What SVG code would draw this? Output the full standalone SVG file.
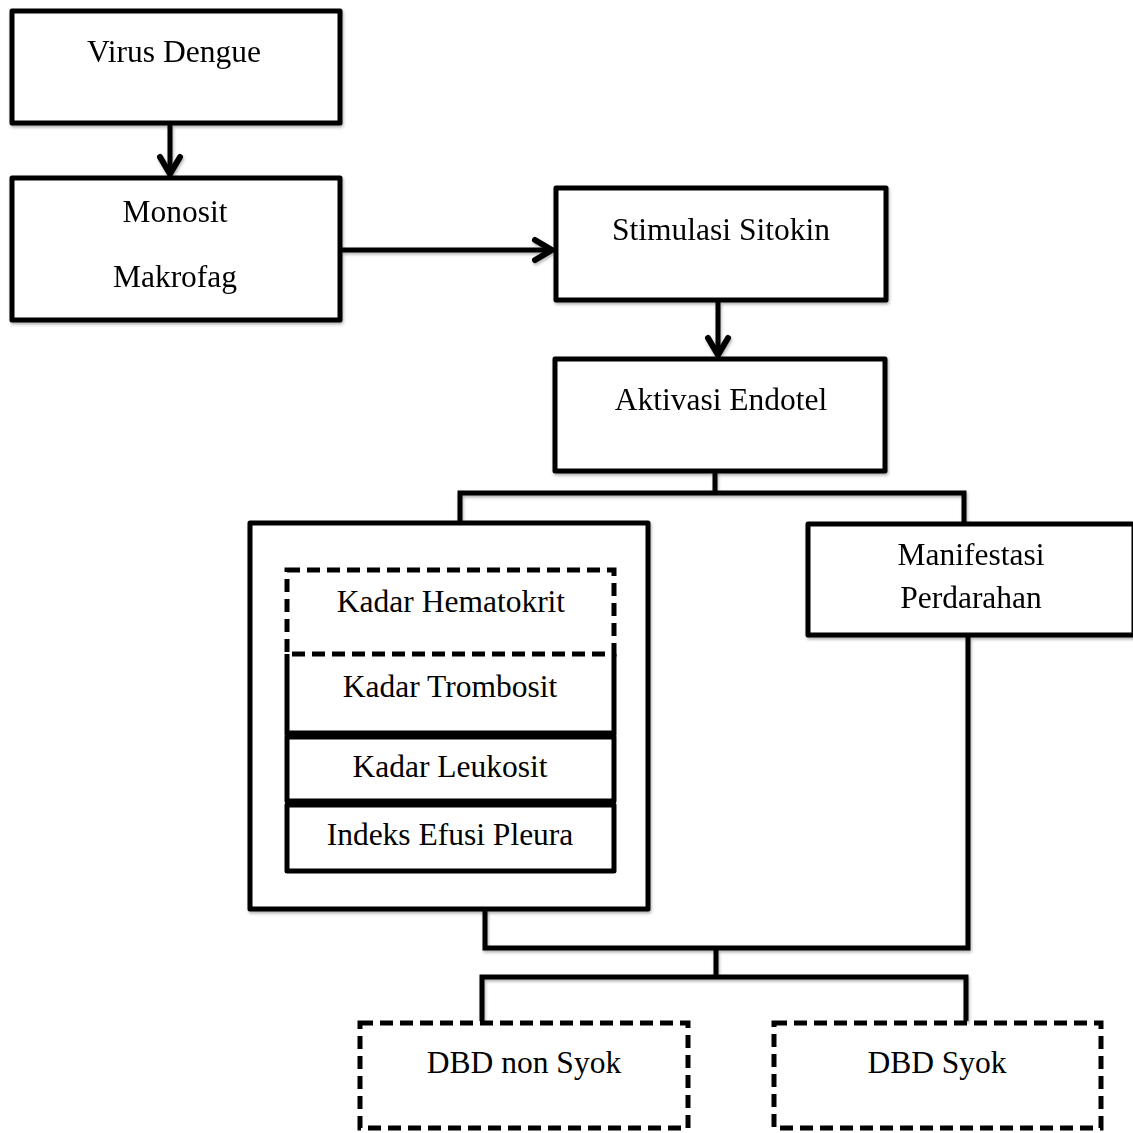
<svg xmlns="http://www.w3.org/2000/svg" width="1133" height="1133" viewBox="0 0 1133 1133">
<defs>
<style>
.box{fill:#fff;stroke:#000;stroke-width:5;stroke-linejoin:round}
.dash{fill:none;stroke:#000;stroke-width:5;stroke-dasharray:13 7}
.ln{fill:none;stroke:#000;stroke-width:5;stroke-linejoin:miter}
.t{font-family:"Liberation Serif","Times New Roman",serif;font-size:31.5px;fill:#000;text-anchor:middle}
</style>
<filter id="sh" x="-5%" y="-5%" width="110%" height="120%">
<feDropShadow dx="1" dy="2" stdDeviation="1.5" flood-color="#000" flood-opacity="0.3"/>
</filter>
<marker id="arr" markerUnits="userSpaceOnUse" viewBox="-22 -14 26 28" refX="0" refY="0" markerWidth="26" markerHeight="28" orient="auto">
<path d="M-17,-10 L0,0 L-17,10" fill="none" stroke="#000" stroke-width="6" stroke-linecap="round" stroke-linejoin="round"/>
</marker>
</defs>
<rect width="1133" height="1133" fill="#fff"/>
<g id="connectors" filter="url(#sh)">
<line class="ln" x1="170" y1="125" x2="170" y2="174" marker-end="url(#arr)"/>
<line class="ln" x1="342" y1="250" x2="552" y2="250" marker-end="url(#arr)"/>
<line class="ln" x1="718" y1="302" x2="718" y2="355" marker-end="url(#arr)"/>
<path class="ln" d="M715,472 V493 M460,521 V493 H964 V522"/>
<path class="ln" d="M485,910 V948 H968 V637 M716,948 V975 M482,1021 V977 H966 V1021"/>
</g>
<g id="virus-dengue" filter="url(#sh)">
<rect class="box" x="12" y="11" width="328" height="112"/>
<text class="t" x="174" y="62">Virus Dengue</text>
</g>
<g id="monosit-makrofag" filter="url(#sh)">
<rect class="box" x="12" y="178" width="328" height="142"/>
<text class="t" x="175" y="222">Monosit</text>
<text class="t" x="175" y="287">Makrofag</text>
</g>
<g id="stimulasi-sitokin" filter="url(#sh)">
<rect class="box" x="556" y="188" width="330" height="112"/>
<text class="t" x="721" y="240">Stimulasi Sitokin</text>
</g>
<g id="aktivasi-endotel" filter="url(#sh)">
<rect class="box" x="555" y="359" width="330" height="112"/>
<text class="t" x="721" y="410">Aktivasi Endotel</text>
</g>
<g id="parameter-group">
<rect class="box" x="250" y="523" width="398" height="386" filter="url(#sh)"/>
<g id="kadar-trombosit">
<path class="ln" d="M287,654 V733 H614 V654"/>
<text class="t" x="450" y="697">Kadar Trombosit</text>
</g>
<g id="kadar-leukosit">
<rect class="box" x="287" y="737" width="327" height="64"/>
<text class="t" x="450" y="777">Kadar Leukosit</text>
</g>
<g id="indeks-efusi-pleura">
<rect class="box" x="287" y="805" width="327" height="66"/>
<text class="t" x="450" y="845">Indeks Efusi Pleura</text>
</g>
<g id="kadar-hematokrit">
<rect class="dash" x="287" y="570" width="327" height="84"/>
<text class="t" x="451" y="612">Kadar Hematokrit</text>
</g>
</g>
<g id="manifestasi-perdarahan" filter="url(#sh)">
<rect class="box" x="808" y="524" width="326" height="111"/>
<text class="t" x="971" y="565">Manifestasi</text>
<text class="t" x="971" y="608">Perdarahan</text>
</g>
<g id="dbd-non-syok">
<rect class="dash" x="360" y="1023" width="328" height="105"/>
<text class="t" x="524" y="1073">DBD non Syok</text>
</g>
<g id="dbd-syok">
<rect class="dash" x="774" y="1023" width="327" height="105"/>
<text class="t" x="937" y="1073">DBD Syok</text>
</g>
</svg>
